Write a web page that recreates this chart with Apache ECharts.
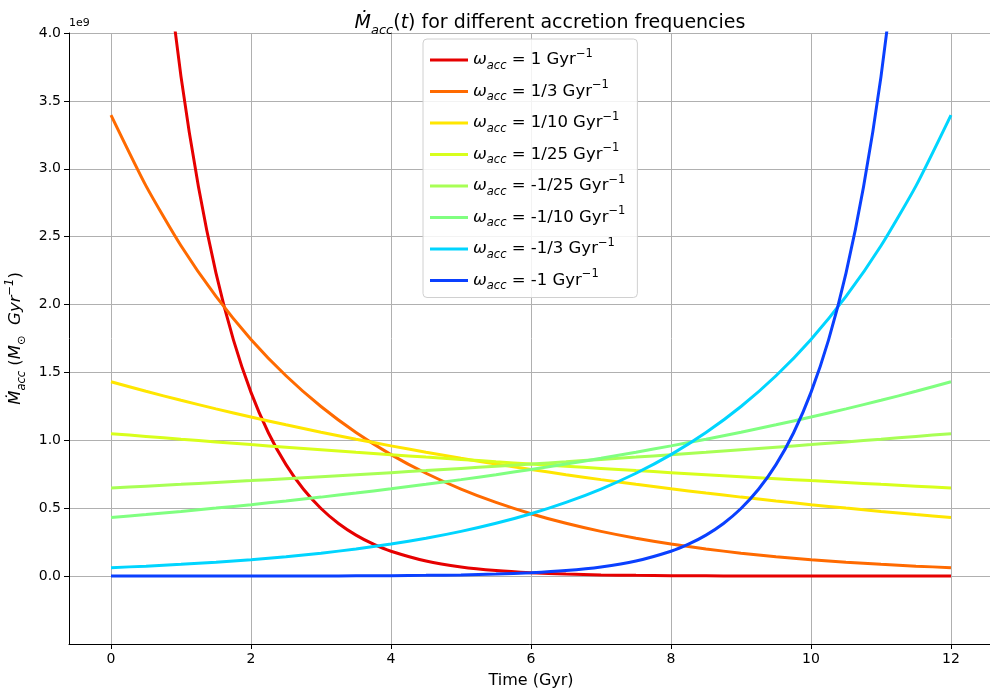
<!DOCTYPE html>
<html>
<head>
<meta charset="utf-8">
<script src="https://cdn.jsdelivr.net/npm/echarts@6/dist/echarts.min.js"></script>
<style>html,body{margin:0;padding:0;background:#fff}#c{width:990px;height:692px}</style>
</head>
<body>
<div id="c"></div>
<script>
// time samples (Gyr)
var T = [0,0.5,1,1.5,2,2.5,3,3.5,4,4.5,5,5.5,6,6.5,7,7.5,8,8.5,9,9.5,10,10.5,11,11.5,12];
var T_pos1 = [0,0.5,0.75,1,1.25,1.5,1.75,2,2.25,2.5,2.75,3,3.25,3.5,3.75,4,4.5,5,5.5,6,6.5,7,7.5,8,8.5,9,9.5,10,10.5,11,11.5,12];
var T_neg1 = [0,0.5,1,1.5,2,2.5,3,3.5,4,4.5,5,5.5,6,6.5,7,7.5,8,8.25,8.5,8.75,9,9.25,9.5,9.75,10,10.25,10.5,10.75,11,11.25,11.5,12];

// accretion rates (units of 1e9 Msun/Gyr)
var W_1 = [10,6.0653,4.7237,3.6788,2.8650,2.2313,1.7377,1.3534,1.0540,0.8208,0.6393,0.4979,0.3877,0.3020,0.2352,0.1832,0.1111,0.0674,0.0409,0.0248,0.0150,0.0091,0.0055,0.0034,0.0020,0.0012,0.0007,0.0005,0.0003,0.0002,0.0001,0.0001];
var W_1_3 = [3.3955,2.8742,2.4330,2.0595,1.7433,1.4757,1.2491,1.0574,0.8950,0.7576,0.6413,0.5429,0.4595,0.3890,0.3293,0.2787,0.2359,0.1997,0.1691,0.1431,0.1211,0.1025,0.0868,0.0735,0.0622];
var W_1_10 = [1.4310,1.3612,1.2948,1.2317,1.1716,1.1145,1.0601,1.0084,0.9592,0.9124,0.8680,0.8256,0.7854,0.7471,0.7106,0.6760,0.6430,0.6116,0.5818,0.5534,0.5264,0.5008,0.4763,0.4531,0.4310];
var W_1_25 = [1.0493,1.0285,1.0081,0.9882,0.9686,0.9494,0.9306,0.9122,0.8941,0.8764,0.8591,0.8421,0.8254,0.8090,0.7930,0.7773,0.7619,0.7468,0.7320,0.7176,0.7033,0.6894,0.6758,0.6624,0.6493];
var W_m1_25 = [0.6493,0.6624,0.6758,0.6894,0.7033,0.7176,0.7320,0.7468,0.7619,0.7773,0.7930,0.8090,0.8254,0.8421,0.8591,0.8764,0.8941,0.9122,0.9306,0.9494,0.9686,0.9882,1.0081,1.0285,1.0493];
var W_m1_10 = [0.4310,0.4531,0.4763,0.5008,0.5264,0.5534,0.5818,0.6116,0.6430,0.6760,0.7106,0.7471,0.7854,0.8256,0.8680,0.9124,0.9592,1.0084,1.0601,1.1145,1.1716,1.2317,1.2948,1.3612,1.4310];
var W_m1_3 = [0.0622,0.0735,0.0868,0.1025,0.1211,0.1431,0.1691,0.1997,0.2359,0.2787,0.3293,0.3890,0.4595,0.5429,0.6413,0.7576,0.8950,1.0574,1.2491,1.4757,1.7433,2.0595,2.4330,2.8742,3.3955];
var W_m1 = [0.0001,0.0001,0.0002,0.0003,0.0005,0.0007,0.0012,0.0020,0.0034,0.0055,0.0091,0.0150,0.0248,0.0409,0.0674,0.1111,0.1832,0.2352,0.3020,0.3877,0.4979,0.6393,0.8208,1.0540,1.3534,1.7377,2.2313,2.8650,3.6788,4.7237,6.0653,10];

var NAMES = ['1','1/3','1/10','1/25','-1/25','-1/10','-1/3','-1'];
var XTICKS = [0,2,4,6,8,10,12];
var YTICKS = [0,0.5,1,1.5,2,2.5,3,3.5,4];

var COLORS = ['#e60000','#ff6a00','#ffe600','#d8ff1c','#a8ff55','#80ff80','#00d5ff','#0a40ff'];
var TIMES = [T_pos1,T,T,T,T,T,T,T_neg1];
var VALUES = [W_1,W_1_3,W_1_10,W_1_25,W_m1_25,W_m1_10,W_m1_3,W_m1];

var FONT = 'DejaVu Sans';
var series = NAMES.map(function(n,i){
  return {
    name: n, type: 'line', showSymbol: false, smooth: 0.2,
    data: TIMES[i].map(function(t,j){return [t, VALUES[i][j]];}),
    lineStyle: {width: 3, color: COLORS[i]}, itemStyle: {color: COLORS[i]},
    clip: true, silent: true, animation: false
  };
});

function rs(size, italic, lh, va){
  var o = {fontFamily: FONT, fontSize: size, fontWeight: 'normal', color: '#000', lineHeight: lh};
  if (italic) o.fontStyle = 'italic';
  if (va) o.verticalAlign = va;
  return o;
}

var chart = echarts.init(document.getElementById('c'), null, {renderer: 'canvas'});
chart.setOption({
  animation: false,
  backgroundColor: '#fff',
  title: {
    text: '{m|Ṁ}{s|acc}{n|(}{i|t}{n|) for different accretion frequencies}',
    left: 545, top: 5, textAlign: 'center',
    textStyle: {
      fontWeight: 'normal', fontFamily: FONT,
      rich: {
        m: rs(19, true, 27),
        s: rs(13, true, 14, 'bottom'),
        i: rs(19, true, 27),
        n: rs(19, false, 27)
      }
    }
  },
  grid: {left: 69, top: 33, width: 924, height: 611, containLabel: false, outerBoundsMode: 'none'},
  legend: {
    orient: 'vertical', left: 423, top: 39,
    data: NAMES.map(function(n,i){return {name: n, icon: 'rect'};}),
    itemWidth: 38, itemHeight: 3, itemGap: 7.5,
    padding: [9, 12, 5, 7],
    backgroundColor: 'rgba(255,255,255,0.85)',
    borderColor: '#d0d0d0', borderWidth: 1, borderRadius: 4,
    formatter: function(name){ return '{w|ω}{s|acc}{t| = ' + name + ' Gyr}{p|−1}'; },
    textStyle: {
      fontFamily: FONT, fontSize: 16.5, color: '#000',
      rich: {
        w: rs(16.5, true, 24),
        s: rs(11.5, true, 12, 'bottom'),
        t: rs(16.5, false, 24),
        p: rs(11.5, false, 14, 'top')
      }
    }
  },
  xAxis: {
    type: 'value', min: -0.6, max: 12.6,
    name: 'Time (Gyr)', nameLocation: 'middle', nameGap: 29,
    nameTextStyle: {fontFamily: FONT, fontSize: 16, color: '#000'},
    axisLine: {show: true, onZero: false, lineStyle: {color: '#000', width: 1}},
    axisTick: {show: true, length: 5, customValues: XTICKS, lineStyle: {color: '#000'}},
    axisLabel: {customValues: XTICKS, fontFamily: FONT, fontSize: 14, color: '#000', margin: 8,
      formatter: function(v){return String(v);}},
    splitLine: {show: true, lineStyle: {color: '#b0b0b0', width: 1}}
  },
  yAxis: {
    type: 'value', min: -0.5, max: 4.0,
    name: '{m|Ṁ}{s|acc}{n| (}{i|M}{s2|⊙}{i|  Gyr}{p|−1}{n|)}',
    nameLocation: 'middle', nameGap: 41, nameRotate: 90,
    nameTextStyle: {
      fontWeight: 'normal',
      rich: {
        m: rs(16.5, true, 24),
        s: rs(11.5, true, 12, 'bottom'),
        s2: rs(11.5, false, 12, 'bottom'),
        i: rs(16.5, true, 24),
        n: rs(16.5, false, 24),
        p: rs(11.5, true, 14, 'top')
      }
    },
    axisLine: {show: true, onZero: false, lineStyle: {color: '#000', width: 1}},
    axisTick: {show: true, length: 5, customValues: YTICKS, lineStyle: {color: '#000'}},
    axisLabel: {customValues: YTICKS, fontFamily: FONT, fontSize: 14, color: '#000', margin: 8,
      formatter: function(v){return v.toFixed(1);}},
    splitLine: {show: true, lineStyle: {color: '#b0b0b0', width: 1}}
  },
  graphic: [
    {type: 'text', left: 69, top: 18, style: {text: '1e9', font: '11px "DejaVu Sans"', fill: '#000'}}
  ],
  series: series
});
</script>
</body>
</html>
